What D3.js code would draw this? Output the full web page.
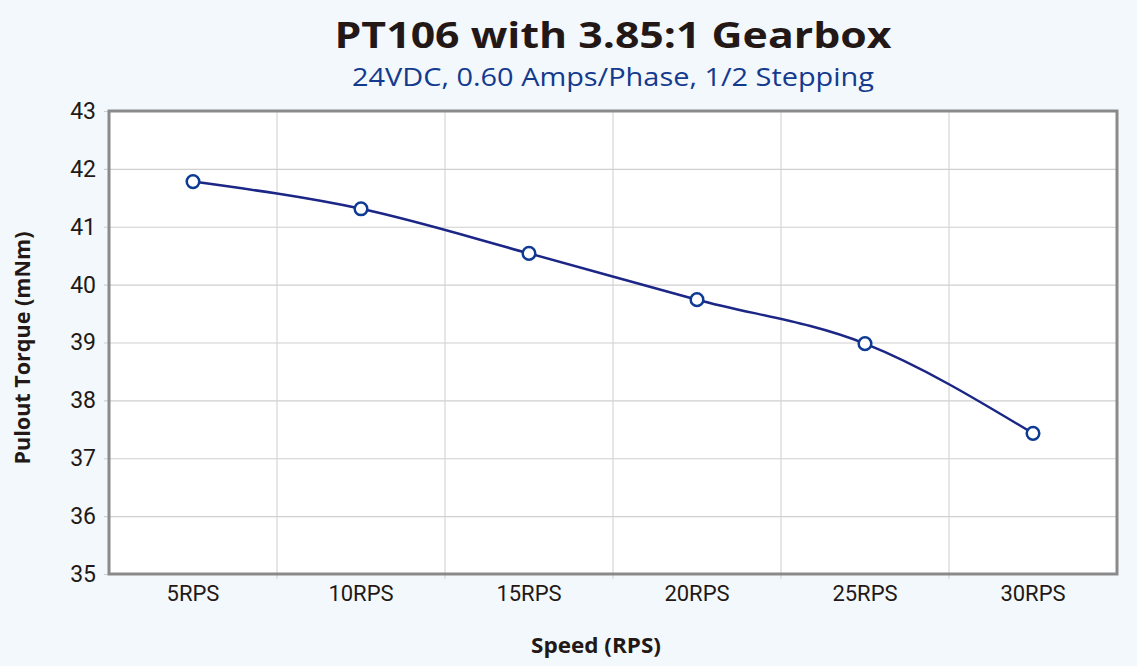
<!DOCTYPE html>
<html><head><meta charset="utf-8">
<script src="https://cdn.jsdelivr.net/npm/d3@7/dist/d3.min.js"></script>
<style>
html,body{margin:0;padding:0;background:#f2f8fc;}
svg{display:block;}
</style></head>
<body>
<svg id="chart" width="1137" height="666"></svg>
<script>
const categories = ["5RPS","10RPS","15RPS","20RPS","25RPS","30RPS"];
const torque = [41.78, 41.31, 40.54, 39.74, 38.98, 37.43];
const yTicks = [35,36,37,38,39,40,41,42,43];
const title = "PT106 with 3.85:1 Gearbox";
const subtitle = "24VDC, 0.60 Amps/Phase, 1/2 Stepping";
const xTitle = "Speed (RPS)";
const yTitle = "Pulout Torque (mNm)";

const W = 1137, H = 666;
const m = {left:109, right:20, top:111, bottom:92};
const svg = d3.select("#chart");
svg.append("rect").attr("width",W).attr("height",H).attr("fill","#f2f8fc");

const x = d3.scaleBand().domain(categories).range([m.left, W-m.right]);
const y = d3.scaleLinear().domain([35,43]).range([H-m.bottom, m.top]);

// plot background
svg.append("rect").attr("x",m.left).attr("y",m.top)
  .attr("width",W-m.right-m.left).attr("height",H-m.bottom-m.top).attr("fill","#ffffff");

// horizontal grid
const gy = svg.append("g").attr("transform",`translate(${m.left},0)`)
  .call(d3.axisLeft(y).tickValues(yTicks).tickSize(-(W-m.right-m.left)).tickSizeOuter(0).tickPadding(13));
gy.select(".domain").remove();
gy.selectAll(".tick line").attr("stroke","#cfcfcf").attr("stroke-width",1.2).attr("x1",-5);
gy.selectAll(".tick text").attr("fill","#231815").attr("font-family","Roboto, 'Liberation Sans', sans-serif").attr("font-size",23);

// vertical grid at band boundaries
const bounds = categories.map(c => x(c)).concat([x(categories[categories.length-1]) + x.bandwidth()]);
svg.append("g").selectAll("line").data(bounds.slice(1,-1)).join("line")
  .attr("x1",d=>d).attr("x2",d=>d).attr("y1",m.top).attr("y2",H-m.bottom+5)
  .attr("stroke","#d6d6d6").attr("stroke-width",1.2);

// x axis labels
const gx = svg.append("g").attr("transform",`translate(0,${H-m.bottom})`)
  .call(d3.axisBottom(x).tickSize(0).tickPadding(11));
gx.select(".domain").remove();
gx.selectAll(".tick text").attr("fill","#231815").attr("font-family","Roboto, 'Liberation Sans', sans-serif").attr("font-size",22);

// border
svg.append("rect").attr("x",m.left).attr("y",m.top)
  .attr("width",W-m.right-m.left).attr("height",H-m.bottom-m.top)
  .attr("fill","none").attr("stroke","#8a8a8a").attr("stroke-width",3);

// line
const pts = categories.map((c,i)=>({c, v:torque[i]}));
const line = d3.line().x(d=>x(d.c)+x.bandwidth()/2).y(d=>y(d.v)).curve(d3.curveMonotoneX);
svg.append("path").datum(pts).attr("d",line).attr("fill","none")
  .attr("stroke","#1b2686").attr("stroke-width",2.5);
svg.append("g").selectAll("circle").data(pts).join("circle")
  .attr("cx",d=>x(d.c)+x.bandwidth()/2).attr("cy",d=>y(d.v)).attr("r",6.3)
  .attr("fill","#ffffff").attr("stroke","#0d3b94").attr("stroke-width",2.5);

// titles
svg.append("text").attr("x",613).attr("y",48).attr("text-anchor","middle")
  .attr("font-family","'Open Sans', sans-serif").attr("font-weight","bold").attr("font-size",36)
  .attr("fill","#231815").attr("textLength",557).attr("lengthAdjust","spacingAndGlyphs").text(title);
svg.append("text").attr("x",613).attr("y",86).attr("text-anchor","middle")
  .attr("font-family","'Open Sans', sans-serif").attr("font-size",25)
  .attr("fill","#143a8e").attr("textLength",522).attr("lengthAdjust","spacingAndGlyphs").text(subtitle);

svg.append("text").attr("x",596).attr("y",653).attr("text-anchor","middle")
  .attr("font-family","'Open Sans', sans-serif").attr("font-weight","bold").attr("font-size",21)
  .attr("fill","#231815").attr("textLength",130).attr("lengthAdjust","spacingAndGlyphs").text(xTitle);
svg.append("text").attr("transform","translate(30,348) rotate(-90)").attr("text-anchor","middle")
  .attr("font-family","'Open Sans', sans-serif").attr("font-weight","bold").attr("font-size",21)
  .attr("fill","#231815").attr("textLength",233).attr("lengthAdjust","spacingAndGlyphs").text(yTitle);
</script>
</body></html>
